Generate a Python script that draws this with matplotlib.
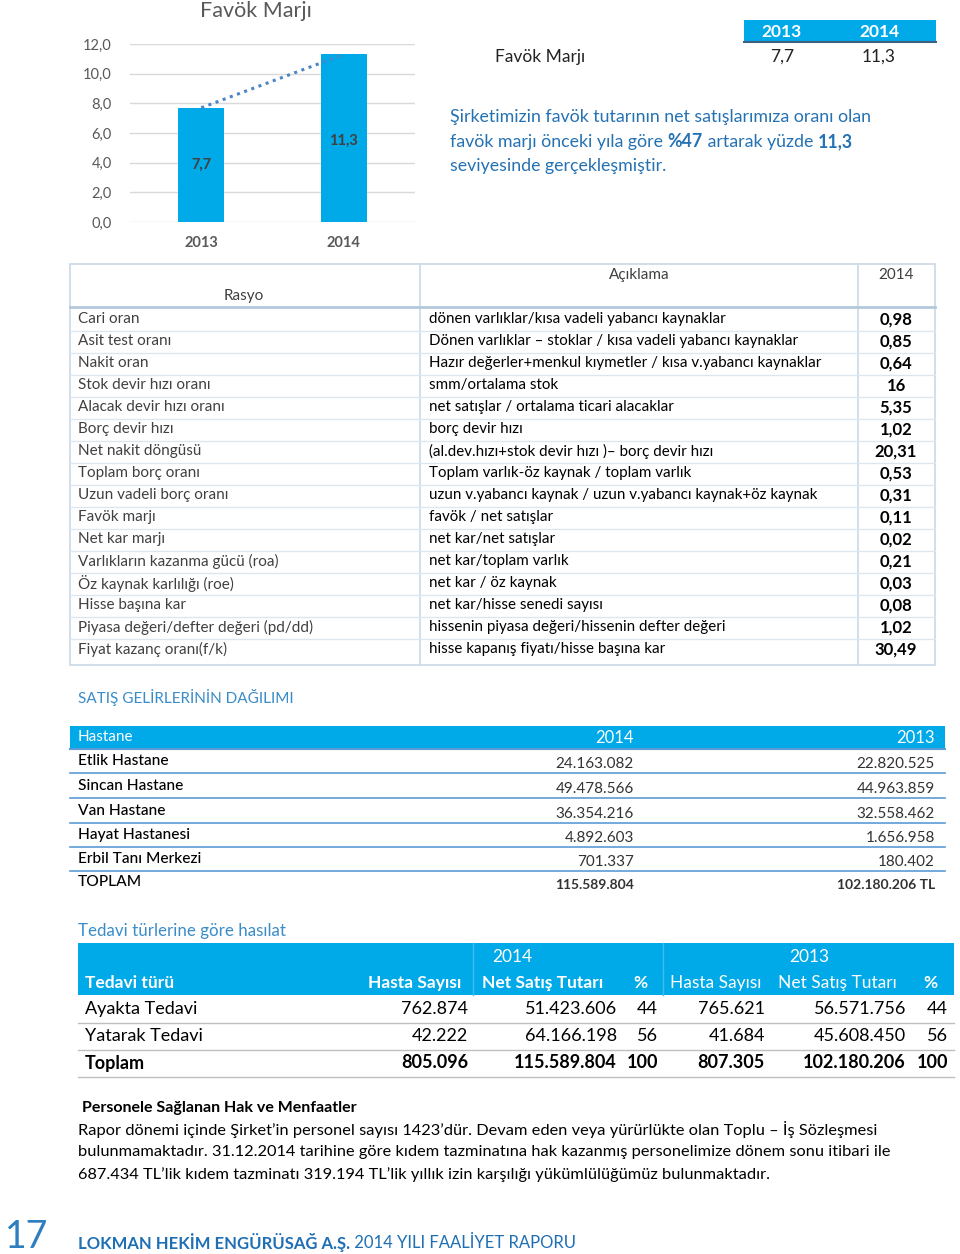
import numpy as np
import matplotlib.pyplot as plt
from matplotlib.patches import Rectangle

plt.rcParams['font.family'] = ['Lato', 'DejaVu Sans']

# --- data ---
years = ['2013', '2014']
favok = [7.7, 11.3]
favok_lbl = ['7,7', '11,3']
yticks = [0, 2, 4, 6, 8, 10, 12]

ratio_names = ['Cari oran', 'Asit test oranı', 'Nakit oran', 'Stok devir hızı oranı',
               'Alacak devir hızı oranı', 'Borç devir hızı', 'Net nakit döngüsü',
               'Toplam borç oranı', 'Uzun vadeli borç oranı', 'Favök marjı', 'Net kar marjı',
               'Varlıkların kazanma gücü (roa)', 'Öz kaynak karlılığı (roe)', 'Hisse başına kar',
               'Piyasa değeri/defter değeri (pd/dd)', 'Fiyat kazanç oranı(f/k)']
ratio_desc = ['dönen varlıklar/kısa vadeli yabancı kaynaklar',
              'Dönen varlıklar – stoklar / kısa vadeli yabancı kaynaklar',
              'Hazır değerler+menkul kıymetler / kısa v.yabancı kaynaklar',
              'smm/ortalama stok', 'net satışlar / ortalama ticari alacaklar', 'borç devir hızı',
              '(al.dev.hızı+stok devir hızı )– borç devir hızı',
              'Toplam varlık-öz kaynak / toplam varlık',
              'uzun v.yabancı kaynak / uzun v.yabancı kaynak+öz kaynak',
              'favök / net satışlar', 'net kar/net satışlar', 'net kar/toplam varlık',
              'net kar / öz kaynak', 'net kar/hisse senedi sayısı',
              'hissenin piyasa değeri/hissenin defter değeri', 'hisse kapanış fiyatı/hisse başına kar']
ratio_vals = ['0,98', '0,85', '0,64', '16', '5,35', '1,02', '20,31', '0,53', '0,31', '0,11',
              '0,02', '0,21', '0,03', '0,08', '1,02', '30,49']

hospitals = ['Etlik Hastane', 'Sincan Hastane', 'Van Hastane', 'Hayat Hastanesi',
             'Erbil Tanı Merkezi', 'TOPLAM']
sales_2014 = ['24.163.082', '49.478.566', '36.354.216', '4.892.603', '701.337', '115.589.804']
sales_2013 = ['22.820.525', '44.963.859', '32.558.462', '1.656.958', '180.402', '102.180.206 TL']

treat_types = ['Ayakta Tedavi', 'Yatarak Tedavi', 'Toplam']
pat_2014 = ['762.874', '42.222', '805.096']
net_2014 = ['51.423.606', '64.166.198', '115.589.804']
pct_2014 = ['44', '56', '100']
pat_2013 = ['765.621', '41.684', '807.305']
net_2013 = ['56.571.756', '45.608.450', '102.180.206']
pct_2013 = ['44', '56', '100']

BLUE = '#00A9E8'
TXTBLUE = '#2471B3'
GRAY = '#595959'

fig = plt.figure(figsize=(9.6, 12.54), dpi=100)

# page overlay in pixel coordinates
pg = fig.add_axes([0, 0, 1, 1])
pg.set_xlim(0, 960)
pg.set_ylim(1254, 0)
pg.axis('off')

# --- bar chart ---
ax = fig.add_axes([130 / 960, 1 - 222 / 1254, 285 / 960, 178 / 1254])
x = np.arange(len(years))
ax.bar(x, favok, width=0.32, color=BLUE, zorder=2)
ax.plot(x, favok, linestyle=(0, (1, 1.5)), color='#4A86C5', lw=2.2, zorder=3)
ax.text(x[0], 3.85, favok_lbl[0], ha='center', va='center', fontsize=10.5, fontweight='bold', color='#404040')
ax.text(x[1], 5.5, favok_lbl[1], ha='center', va='center', fontsize=10.5, fontweight='bold', color='#404040')
ax.set_xlim(-0.5, 1.5)
ax.set_ylim(0, 12)
ax.set_yticks(yticks)
ax.set_yticklabels([f'{v:.1f}'.replace('.', ',') for v in yticks], color=GRAY, fontsize=10.5)
ax.yaxis.grid(True, color='#D9D9D9', lw=1, zorder=0)
ax.set_xticks(x)
ax.set_xticklabels(years, fontweight='bold', color=GRAY, fontsize=10.5)
ax.tick_params(length=0, pad=13)
ax.tick_params(axis='x', pad=10)
for s in ax.spines.values():
    s.set_visible(False)
pg.text(256, 11, 'Favök Marjı', ha='center', va='center', fontsize=15.5, color=GRAY)

# --- small favök table ---
pg.add_patch(Rectangle((744, 20), 192, 22, color=BLUE, lw=0))
pg.plot([744, 936], [42, 42], color='#3F5F7F', lw=1.5)
pg.text(782, 32, years[0], ha='center', va='center', color='white', fontsize=12.5, fontweight='bold')
pg.text(879, 32, years[1], ha='center', va='center', color='white', fontsize=12.5, fontweight='bold')
pg.text(540, 57, 'Favök Marjı', ha='center', va='center', fontsize=12.5, color='#222222')
pg.text(782, 57, favok_lbl[0], ha='center', va='center', fontsize=12.5, color='#222222')
pg.text(879, 57, favok_lbl[1], ha='center', va='center', fontsize=12.5, color='#222222')

pg.text(450, 117, 'Şirketimizin favök tutarının net satışlarımıza oranı olan', va='center',
        fontsize=12.8, color=TXTBLUE)
t = pg.text(450, 142, 'favök marjı önceki yıla göre ', va='center', fontsize=12.8, color=TXTBLUE)
t = pg.annotate('%47', xy=(1, 0), xycoords=t, va='bottom', fontsize=12.8, color=TXTBLUE, fontweight='bold')
t = pg.annotate(' artarak yüzde ', xy=(1, 0), xycoords=t, va='bottom', fontsize=12.8, color=TXTBLUE)
pg.annotate('11,3', xy=(1, 0), xycoords=t, va='bottom', fontsize=12.8, color=TXTBLUE, fontweight='bold')
pg.text(450, 166, 'seviyesinde gerçekleşmiştir.', va='center', fontsize=12.8, color=TXTBLUE)

# --- ratio table ---
LINE = '#C9D9E8'
top, head_bot, rh = 264, 307, 22
n = len(ratio_names)
bot = head_bot + rh * n + 6
pg.add_patch(Rectangle((70, top), 865, bot - top, fill=False, ec=LINE, lw=1.2))
pg.plot([420, 420], [top, bot], color=LINE, lw=1.2)
pg.plot([858, 858], [top, bot], color=LINE, lw=1.2)
pg.plot([70, 935], [head_bot, head_bot], color='#B4C8DC', lw=2)
pg.text(639, 275, 'Açıklama', ha='center', va='center', fontsize=11, color='#404040')
pg.text(896, 275, '2014', ha='center', va='center', fontsize=11, color='#404040')
pg.text(244, 296, 'Rasyo', ha='center', va='center', fontsize=11, color='#404040')
for i in range(n):
    y = 319 + rh * i
    pg.text(78, y, ratio_names[i], va='center', fontsize=11, color='#404040')
    pg.text(429, y, ratio_desc[i], va='center', fontsize=10.9, color='black')
    pg.text(896, y + 1, ratio_vals[i], ha='center', va='center', fontsize=12, color='black',
            fontweight='bold')
    if i < n - 1:
        pg.plot([70, 935], [y + 11.5, y + 11.5], color='#DCE6F0', lw=1)

# --- SATIŞ table ---
pg.text(78, 698, 'SATIŞ GELİRLERİNİN DAĞILIMI', va='center', fontsize=11, color='#3A8CC8')
pg.add_patch(Rectangle((70, 726), 875, 23, color=BLUE, lw=0))
pg.text(78, 737, 'Hastane', va='center', color='white', fontsize=11)
pg.text(634, 738, '2014', ha='right', va='center', color='white', fontsize=12)
pg.text(935, 738, '2013', ha='right', va='center', color='white', fontsize=12)
pg.plot([70, 945], [749, 749], color='#5B9BD5', lw=1.5)
row_y = [761, 786, 811, 835, 859, 882]
for i, name in enumerate(hospitals):
    y = row_y[i]
    last = i == len(hospitals) - 1
    pg.text(78, y, name, va='center', fontsize=11.2, color='black', fontweight='medium')
    w = 'bold' if last else 'normal'
    fs = 10 if last else 11
    pg.text(634, y + 3, sales_2014[i], ha='right', va='center', fontsize=fs, color='#333333', fontweight=w)
    pg.text(935, y + 3, sales_2013[i], ha='right', va='center', fontsize=fs, color='#333333', fontweight=w)
    if not last:
        pg.plot([70, 945], [y + 12, y + 12], color='#5B9BD5', lw=1.2)

# --- Tedavi table ---
pg.text(78, 931, 'Tedavi türlerine göre hasılat', va='center', fontsize=12.2, color='#3A8CC8')
pg.add_patch(Rectangle((78, 943), 876, 52, color=BLUE, lw=0))
pg.plot([473, 473], [943, 995], color='#3DC0F0', lw=1)
pg.plot([663, 663], [943, 995], color='#3DC0F0', lw=1)
pg.text(512, 957, '2014', ha='center', va='center', color='white', fontsize=12.5)
pg.text(809, 957, '2013', ha='center', va='center', color='white', fontsize=12.5)
hy = 983
pg.text(85, hy, 'Tedavi türü', va='center', color='white', fontsize=12.5, fontweight='bold')
pg.text(461, hy, 'Hasta Sayısı', ha='right', va='center', color='white', fontsize=12.5, fontweight='bold')
pg.text(603, hy, 'Net Satış Tutarı', ha='right', va='center', color='white', fontsize=12.5, fontweight='bold')
pg.text(640, hy, '%', ha='center', va='center', color='white', fontsize=12.5, fontweight='bold')
pg.text(761, hy, 'Hasta Sayısı', ha='right', va='center', color='white', fontsize=12.5)
pg.text(897, hy, 'Net Satış Tutarı', ha='right', va='center', color='white', fontsize=12.5)
pg.text(930, hy, '%', ha='center', va='center', color='white', fontsize=12.5, fontweight='bold')
cols = [(468, pat_2014), (617, net_2014), (658, pct_2014), (765, pat_2013), (906, net_2013), (948, pct_2013)]
for i, name in enumerate(treat_types):
    y = 1009 + 27 * i
    w = 'bold' if i == len(treat_types) - 1 else 'normal'
    pg.text(85, y, name, va='center', fontsize=13, color='black', fontweight=w)
    for cx, vals in cols:
        pg.text(cx, y, vals[i], ha='right', va='center', fontsize=13, color='black', fontweight=w)
    pg.plot([78, 954], [y + 13.5, y + 13.5], color='#BFBFBF', lw=1)

# --- paragraph ---
pg.text(82, 1108, 'Personele Sağlanan Hak ve Menfaatler', va='center', fontsize=11.5, fontweight='bold',
        color='black')
para = ['Rapor dönemi içinde Şirket’in personel sayısı 1423’dür. Devam eden veya yürürlükte olan Toplu – İş Sözleşmesi',
        'bulunmamaktadır. 31.12.2014 tarihine göre kıdem tazminatına hak kazanmış personelimize dönem sonu itibari ile',
        '687.434 TL’lik kıdem tazminatı 319.194 TL’lik yıllık izin karşılığı yükümlülüğümüz bulunmaktadır.']
for i, line in enumerate(para):
    pg.text(78, 1129 + 23 * i, line, va='center', fontsize=11.8, color='black')

# --- footer ---
pg.text(5, 1237, '17', va='center', fontsize=27, color='#2E7FC0')
t = pg.text(78, 1242, 'LOKMAN HEKİM ENGÜRÜSAĞ A.Ş.', va='center', fontsize=12, color='#1F6FB5',
            fontweight='bold')
pg.annotate(' 2014 YILI FAALİYET RAPORU', xy=(1, 0), xycoords=t, va='bottom', fontsize=12, color='#1F6FB5')

fig.savefig('out.png', dpi=100)
